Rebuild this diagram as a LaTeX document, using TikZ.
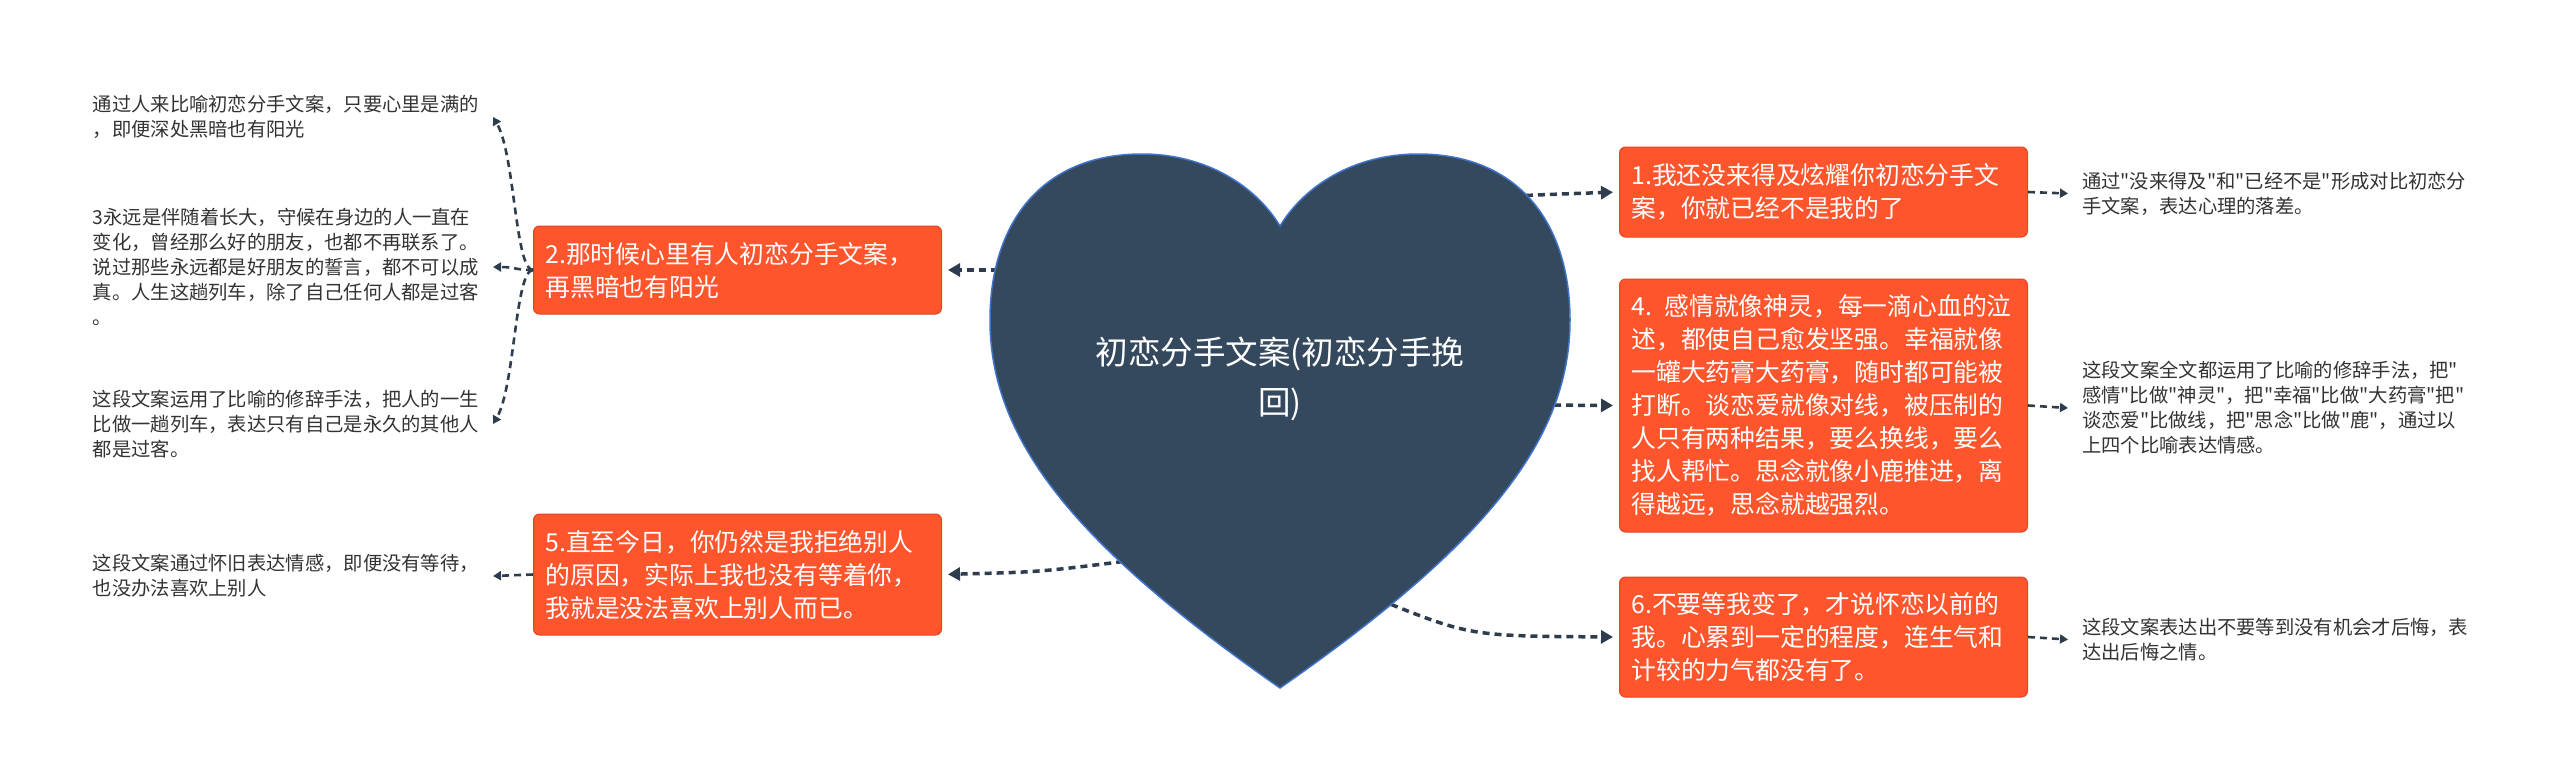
\documentclass[tikz,border=0pt]{standalone}
\usepackage{fontspec}
\newfontfamily\cjk{Noto Sans CJK SC}
\usetikzlibrary{arrows.meta}
\definecolor{boxfill}{HTML}{FE552D}
\definecolor{boxline}{HTML}{E54425}
\definecolor{heartfill}{HTML}{34495E}
\definecolor{heartline}{HTML}{3F73C9}
\definecolor{conn}{HTML}{2E3D4D}
\definecolor{leaftext}{HTML}{333333}
\begin{document}
\begin{tikzpicture}[x=1pt,y=-1pt,
  boxnode/.style={draw=boxline, line width=1pt, fill=boxfill, rounded corners=6pt, text=white,
    font=\cjk\fontsize{24.8}{33}\selectfont, text width=384pt, align=left,
    inner xsep=12pt, inner ysep=0pt, anchor=west},
  leafnode/.style={text=leaftext, font=\cjk\fontsize{19.3}{25}\selectfont, text width=386pt,
    align=left, inner xsep=14pt, inner ysep=0pt},
  hearttext/.style={text=white, font=\cjk\fontsize{32.5}{50}\selectfont, align=center},
  mainconn/.style={draw=conn, line width=3.5pt, dash pattern=on 7pt off 5pt,
    -{Triangle[length=12pt,width=13pt]}, shorten >=6pt},
  leafconn/.style={draw=conn, line width=2.6pt, dash pattern=on 7pt off 5pt,
    -{Triangle[length=8pt,width=9pt]}},
]
\useasboundingbox (0,0) rectangle (2560,782);
\fill[white] (0,0) rectangle (2560,782);

% boxes
\node[boxnode, minimum height=90pt] (b1) at (1619,192) {1.我还没来得及炫耀你初恋分手文\\案，你就已经不是我的了};
\node[boxnode, minimum height=253pt] (b4) at (1619,405.5) {4. 感情就像神灵，每一滴心血的泣\\述，都使自己愈发坚强。幸福就像\\一罐大药膏大药膏，随时都可能被\\打断。谈恋爱就像对线，被压制的\\人只有两种结果，要么换线，要么\\找人帮忙。思念就像小鹿推进，离\\得越远，思念就越强烈。};
\node[boxnode, minimum height=120pt] (b6) at (1619,637) {6.不要等我变了，才说怀恋以前的\\我。心累到一定的程度，连生气和\\计较的力气都没有了。};
\node[boxnode, minimum height=88pt] (b2) at (533,270) {2.那时候心里有人初恋分手文案，\\再黑暗也有阳光};
\node[boxnode, minimum height=121pt] (b5) at (533,574.5) {5.直至今日，你仍然是我拒绝别人\\的原因，实际上我也没有等着你，\\我就是没法喜欢上别人而已。};

% leaves left
\node[leafnode, anchor=east] (la) at (493,117) {通过人来比喻初恋分手文案，只要心里是满的\\，即便深处黑暗也有阳光};
\node[leafnode, anchor=east] (lb) at (493,267) {3永远是伴随着长大，守候在身边的人一直在\\变化，曾经那么好的朋友，也都不再联系了。\\说过那些永远都是好朋友的誓言，都不可以成\\真。人生这趟列车，除了自己任何人都是过客\\。};
\node[leafnode, anchor=east] (lc) at (493,424) {这段文案运用了比喻的修辞手法，把人的一生\\比做一趟列车，表达只有自己是永久的其他人\\都是过客。};
\node[leafnode, anchor=east] (l5) at (493,576) {这段文案通过怀旧表达情感，即便没有等待，\\也没办法喜欢上别人};

% leaves right
\node[leafnode, anchor=west] (r1) at (2068,193.5) {通过"没来得及"和"已经不是"形成对比初恋分\\手文案，表达心理的落差。};
\node[leafnode, anchor=west] (r4) at (2068,408) {这段文案全文都运用了比喻的修辞手法，把"\\感情"比做"神灵"，把"幸福"比做"大药膏"把"\\谈恋爱"比做线，把"思念"比做"鹿"，通过以\\上四个比喻表达情感。};
\node[leafnode, anchor=west] (r6) at (2068,639.5) {这段文案表达出不要等到没有机会才后悔，表\\达出后悔之情。};

% heart connector start points
\coordinate (s1) at (1490,197);
\coordinate (s4) at (1530,405);
\coordinate (s6) at (1380,600);
\coordinate (s2) at (1010,270);
\coordinate (s5) at (1135,560);

% main connectors
\draw[mainconn] (s1) .. controls (1560,194) .. (b1.west);
\draw[mainconn] (s4) -- (b4.west);
\draw[mainconn] (s6) .. controls (1470,636) .. (b6.west);
\draw[mainconn] (s2) -- (b2.east);
\draw[mainconn] (s5) .. controls (1040,572) .. (b5.east);

% heart
\filldraw[fill=heartfill, draw=heartline, line width=1.5pt]
  (1280,226) .. controls (1255,185) and (1205,154) .. (1142,154)
  .. controls (1040,154) and (990,225) .. (990,320)
  .. controls (990,440) and (1075,545) .. (1280,688)
  .. controls (1485,545) and (1570,440) .. (1570,320)
  .. controls (1570,225) and (1520,154) .. (1418,154)
  .. controls (1355,154) and (1305,185) .. (1280,226) -- cycle;
\node[hearttext] (hc) at (1280,379) {初恋分手文案(初恋分手挽\\回)};

% leaf connectors
\draw[leafconn] (b2.west) .. controls +(-18,0) and +(22,37) .. (la.east);
\draw[leafconn] (b2.west) .. controls +(-18,0) and +(22,0) .. (lb.east);
\draw[leafconn] (b2.west) .. controls +(-18,0) and +(22,-37) .. (lc.east);
\draw[leafconn] (b5.west) -- (l5.east);
\draw[leafconn] (b1.east) -- (r1.west);
\draw[leafconn] (b4.east) -- (r4.west);
\draw[leafconn] (b6.east) -- (r6.west);
\end{tikzpicture}
\end{document}
